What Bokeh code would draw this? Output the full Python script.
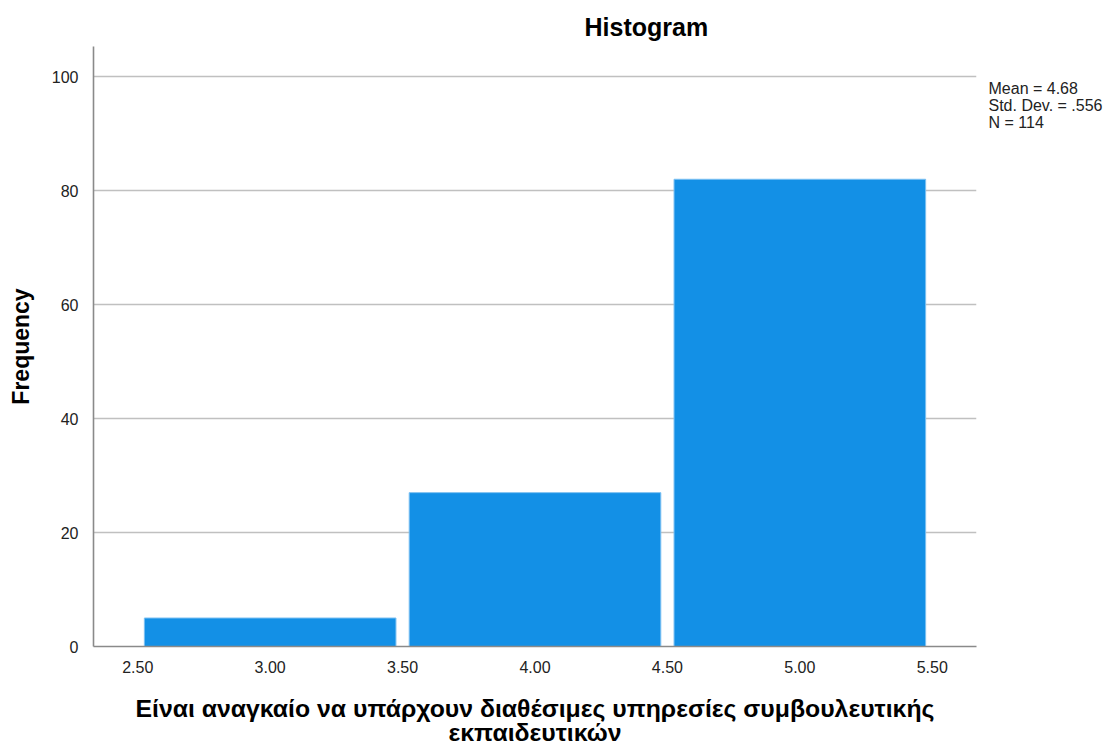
from bokeh.plotting import figure
from bokeh.models import FixedTicker, Range1d, LinearAxis
from bokeh.embed import file_html
from bokeh.resources import INLINE

# Data
bin_centers = [3.0, 4.0, 5.0]
frequencies = [5, 27, 82]
x_ticks = [2.5, 3.0, 3.5, 4.0, 4.5, 5.0, 5.5]
x_tick_labels = ["2.50", "3.00", "3.50", "4.00", "4.50", "5.00", "5.50"]
y_ticks = [0, 20, 40, 60, 80, 100]
stats_lines = ["Mean = 4.68", "Std. Dev. = .556", "N = 114"]
x_label = "Είναι αναγκαίο να υπάρχουν διαθέσιμες υπηρεσίες συμβουλευτικής\nεκπαιδευτικών"
y_label = "Frequency"
title_text = "Histogram"

FONT = "Liberation Sans"

# vertical positions (in y-axis units) of the statistics lines at the right
stats_y = [97.9, 94.9, 91.9]

p = figure(frame_width=883, frame_height=600, output_backend="svg", toolbar_location=None,
           x_range=Range1d(2.333, 5.667), y_range=Range1d(0, 105.3),
           min_border_left=93, min_border_right=4, min_border_top=46, min_border_bottom=10)

p.title.text = title_text
p.title.text_font = FONT
p.title.text_font_size = "25px"
p.title.text_font_style = "bold"
p.title.text_color = "#000000"
p.title.align = "left"
p.title.offset = 491
p.title.standoff = 12

p.vbar(x=bin_centers, top=frequencies, bottom=0, width=0.95,
       fill_color="#1390e6", line_color="#7cc0f2", line_width=1)

p.outline_line_color = None
p.xgrid.grid_line_color = None
p.ygrid.grid_line_color = "#c0c0c0"
p.ygrid.grid_line_width = 1.6
p.ygrid.ticker = FixedTicker(ticks=y_ticks)

p.xaxis.ticker = FixedTicker(ticks=x_ticks)
p.xaxis.major_label_overrides = {t: l for t, l in zip(x_ticks, x_tick_labels)}
p.yaxis.ticker = FixedTicker(ticks=y_ticks)

for ax in (p.xaxis[0], p.yaxis[0]):
    ax.axis_line_color = "#8a8a8a"
    ax.axis_line_width = 1.6
    ax.major_tick_line_color = None
    ax.minor_tick_line_color = None
    ax.major_label_text_font = FONT
    ax.major_label_text_font_size = "16px"
    ax.major_label_text_color = "#222222"
    ax.axis_label_text_font = FONT
    ax.axis_label_text_font_style = "bold"
    ax.axis_label_text_color = "#000000"

p.xaxis.major_label_standoff = 8
p.yaxis.major_label_standoff = 9
p.xaxis.axis_label = x_label
p.xaxis.axis_label_text_font_size = "24.8px"
p.xaxis.axis_label_standoff = 19
p.xaxis.axis_label_text_line_height = 0.9
p.yaxis.axis_label = y_label
p.yaxis.axis_label_text_font_size = "23px"
p.yaxis.axis_label_standoff = 15

# statistics box at the right, as labels of an invisible right-hand axis
stats_axis = LinearAxis(ticker=FixedTicker(ticks=stats_y),
                        major_label_overrides={y: t for y, t in zip(stats_y, stats_lines)})
stats_axis.axis_line_color = None
stats_axis.major_tick_line_color = None
stats_axis.minor_tick_line_color = None
stats_axis.major_label_standoff = 6
stats_axis.major_label_text_font = FONT
stats_axis.major_label_text_font_size = "16px"
stats_axis.major_label_text_color = "#222222"
p.add_layout(stats_axis, "right")

open("out.html", "w").write(file_html(p, INLINE))
